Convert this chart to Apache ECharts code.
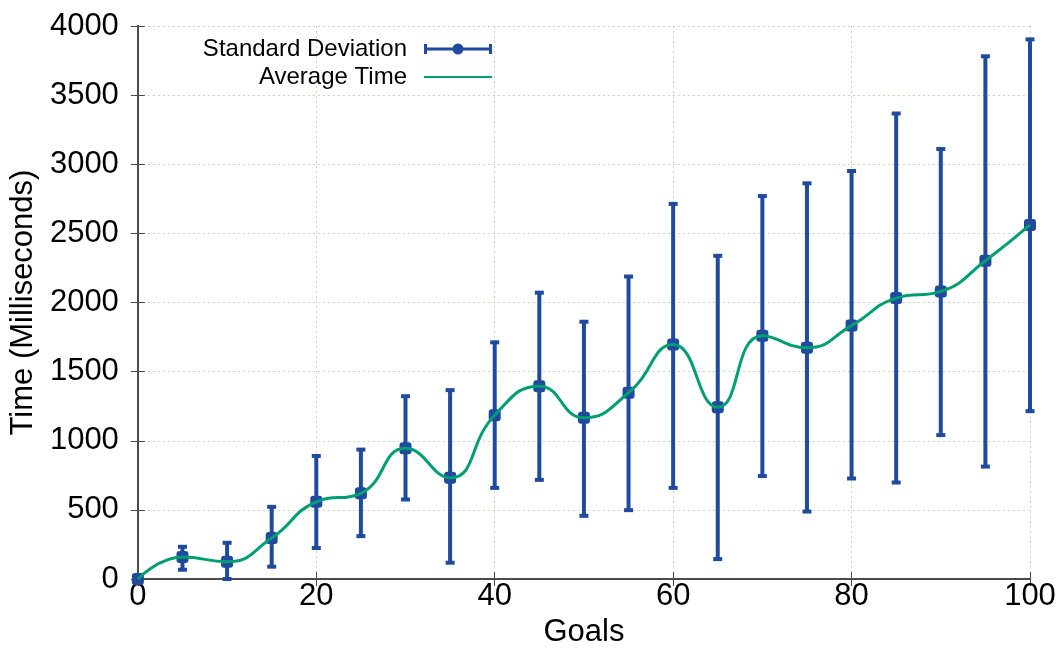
<!DOCTYPE html>
<html>
<head>
<meta charset="utf-8">
<script src="https://cdn.jsdelivr.net/npm/echarts@6/dist/echarts.min.js"></script>
<style>html,body{margin:0;padding:0;background:#fff}#c{width:1060px;height:653px}</style>
</head>
<body>
<div id="c"></div>
<script>
const goals = [0,5,10,15,20,25,30,35,40,45,50,55,60,65,70,75,80,85,90,95,100];
const avgTime = [0,159,125,296,558,620,945,732,1185,1395,1166,1347,1696,1243,1760,1672,1833,2032,2080,2302,2561];
const sdLow = [0,67,0,89,224,310,575,118,659,717,457,498,659,144,745,488,727,698,1041,813,1214];
const sdHigh = [0,233,262,522,890,936,1322,1366,1712,2071,1861,2188,2713,2338,2770,2862,2951,3367,3110,3781,3903];
const xTicks = [0,20,40,60,80,100];
const yTicks = [0,500,1000,1500,2000,2500,3000,3500,4000];

const BLUE = '#1f4a9e';
const GREEN = '#009e73';
const AXIS = '#4a4a4a';
const FONT = 'Liberation Sans';

const chart = echarts.init(document.getElementById('c'), null, {renderer: 'canvas'});

const lineData = goals.map((g, i) => [g, avgTime[i]]);
const barData = goals.map((g, i) => [g, sdLow[i], sdHigh[i]]);

const errIcon = 'path://M0,5.5H68V8.5H0Z M0,2H3V12H0Z M65,2H68V12H65Z M34,1.5A5.5,5.5,0,1,1,34,12.5A5.5,5.5,0,1,1,34,1.5Z';

const option = {
  animation: false,
  backgroundColor: '#fff',
  grid: {left: 137, right: 30, top: 26, bottom: 73},
  legend: {
    orient: 'vertical',
    align: 'right',
    right: 562,
    top: 30,
    itemWidth: 68,
    itemHeight: 14,
    itemGap: 0,
    textStyle: {fontFamily: FONT, fontSize: 24, color: '#000', lineHeight: 28, padding: [0, 12, 0, 0]},
    data: [
      {name: 'Standard Deviation', icon: errIcon},
      {name: 'Average Time', itemStyle: {opacity: 0}}
    ]
  },
  xAxis: [{
    type: 'value', min: 0, max: 100, interval: 20,
    name: 'Goals', nameLocation: 'middle', nameGap: 38,
    nameTextStyle: {fontFamily: FONT, fontSize: 31, color: '#000'},
    axisLine: {show: true, lineStyle: {color: AXIS, width: 2}},
    axisTick: {show: true, inside: true, length: 7, lineStyle: {color: AXIS, width: 1}},
    axisLabel: {fontFamily: FONT, fontSize: 31, color: '#000', margin: 2,
      formatter: v => xTicks.includes(v) ? String(v) : ''},
    splitLine: {show: true, lineStyle: {color: '#cdd3bd', type: [2, 3], width: 1}}
  }, {
    type: 'value', min: 0, max: 100, interval: 20, position: 'top',
    axisLine: {show: true, lineStyle: {color: AXIS, width: 2}},
    axisTick: {show: true, inside: true, length: 7, lineStyle: {color: AXIS, width: 1}},
    axisLabel: {show: false}, splitLine: {show: false}
  }],
  yAxis: [{
    type: 'value', min: 0, max: 4000, interval: 500,
    name: 'Time (Milliseconds)', nameLocation: 'middle', nameGap: 96,
    nameTextStyle: {fontFamily: FONT, fontSize: 31, color: '#000'},
    axisLine: {show: true, lineStyle: {color: AXIS, width: 2}},
    axisTick: {show: true, inside: true, length: 7, lineStyle: {color: AXIS, width: 1}},
    axisLabel: {fontFamily: FONT, fontSize: 31, color: '#000', margin: 19,
      formatter: v => yTicks.includes(v) ? String(v) : ''},
    splitLine: {show: true, lineStyle: {color: '#cdd3bd', type: [2, 3], width: 1}}
  }, {
    type: 'value', min: 0, max: 4000, interval: 500, position: 'right',
    axisLine: {show: true, lineStyle: {color: AXIS, width: 2}},
    axisTick: {show: true, inside: true, length: 7, lineStyle: {color: AXIS, width: 1}},
    axisLabel: {show: false}, splitLine: {show: false}
  }],
  series: [
    {
      name: 'Standard Deviation',
      type: 'custom',
      xAxisIndex: 0, yAxisIndex: 0,
      itemStyle: {color: BLUE},
      clip: false,
      z: 3,
      encode: {x: 0, y: [1, 2]},
      data: barData,
      renderItem: function (params, api) {
        const x = api.value(0);
        const top = api.coord([x, api.value(2)]);
        const bot = api.coord([x, api.value(1)]);
        const hw = 4.5;
        const st = {stroke: BLUE, lineWidth: 4};
        return {
          type: 'group',
          children: [
            {type: 'line', shape: {x1: top[0], y1: top[1], x2: bot[0], y2: bot[1]}, style: st},
            {type: 'line', shape: {x1: top[0] - hw, y1: top[1], x2: top[0] + hw, y2: top[1]}, style: st},
            {type: 'line', shape: {x1: bot[0] - hw, y1: bot[1], x2: bot[0] + hw, y2: bot[1]}, style: st}
          ]
        };
      }
    },
    {
      name: 'Standard Deviation',
      type: 'scatter',
      symbol: 'roundRect',
      symbolSize: 12,
      itemStyle: {color: BLUE, opacity: 1},
      z: 4,
      data: lineData
    },
    {
      name: 'Average Time',
      type: 'line',
      smooth: 0.5,
      symbol: 'none',
      showSymbol: false,
      lineStyle: {color: GREEN, width: 3},
      itemStyle: {color: GREEN},
      z: 5,
      data: lineData
    }
  ]
};
chart.setOption(option);
</script>
</body>
</html>
